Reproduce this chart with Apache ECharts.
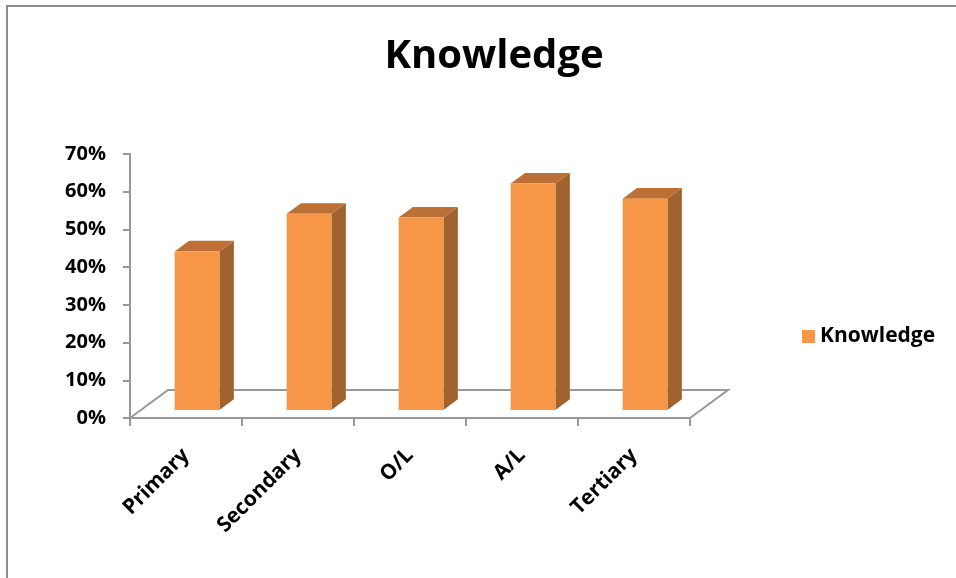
<!DOCTYPE html>
<html>
<head>
<meta charset="utf-8">
<script src="https://cdn.jsdelivr.net/npm/echarts@6/dist/echarts.min.js"></script>
<style>
  html, body { margin: 0; padding: 0; background: #fff; }
  #chart { width: 956px; height: 578px; }
</style>
</head>
<body>
<div id="chart"></div>
<script>
var categories = ['Primary', 'Secondary', 'O/L', 'A/L', 'Tertiary'];
var knowledge = [0.42, 0.52, 0.51, 0.60, 0.56];

// depth of the 3d floor in px, and where the bar sits inside it
var DEPTH = [38, -28];
var BAR_FRONT = 0.29;
var BAR_DEPTH = 0.38;
var BAR_W = 0.4; // share of the category band

var font = '"Open Sans", "DejaVu Sans", sans-serif';

function renderBar(params, api) {
  var idx = api.value(0);
  var base = api.coord([idx, 0]);
  var top = api.coord([idx, api.value(1)]);
  var band = api.size([1, 0])[0];
  var w = band * BAR_W;
  var ox = DEPTH[0] * BAR_FRONT, oy = DEPTH[1] * BAR_FRONT;
  var dx = DEPTH[0] * BAR_DEPTH, dy = DEPTH[1] * BAR_DEPTH;
  var x0 = base[0] - w / 2 + ox, x1 = x0 + w;
  var yb = base[1] + oy, yt = top[1] + oy;
  return {
    type: 'group',
    children: [
      {
        type: 'polygon',
        shape: { points: [[x1, yb], [x1 + dx, yb + dy], [x1 + dx, yt + dy], [x1, yt]] },
        style: { fill: '#A0622E' }
      },
      {
        type: 'polygon',
        shape: { points: [[x0, yt], [x1, yt], [x1 + dx, yt + dy], [x0 + dx, yt + dy]] },
        style: { fill: '#BD7035' }
      },
      {
        type: 'rect',
        shape: { x: x0, y: yt, width: w, height: yb - yt },
        style: { fill: '#F79646' }
      }
    ]
  };
}

// floor outline: left diagonal, back edge, right diagonal
function renderFloor(params, api) {
  var band = api.size([1, 0])[0];
  var first = api.coord([0, 0]);
  var last = api.coord([categories.length - 1, 0]);
  var l = [first[0] - band / 2, first[1]];
  var r = [last[0] + band / 2, last[1]];
  return {
    type: 'polyline',
    shape: { points: [l, [l[0] + DEPTH[0], l[1] + DEPTH[1]], [r[0] + DEPTH[0], r[1] + DEPTH[1]], r] },
    style: { stroke: '#989898', lineWidth: 2, fill: null }
  };
}

var chart = echarts.init(document.getElementById('chart'));
chart.setOption({
  backgroundColor: '#fff',
  animation: false,
  title: {
    text: 'Knowledge',
    left: 489,
    top: 32,
    textAlign: 'center',
    textStyle: { fontFamily: font, fontWeight: 'bold', fontSize: 40, color: '#000' }
  },
  graphic: [{
    type: 'rect',
    shape: { x: 7, y: 6, width: 1000, height: 1000 },
    style: { fill: null, stroke: '#8c8c8c', lineWidth: 2 }
  }],
  legend: {
    left: 797,
    top: 321,
    icon: 'rect',
    itemWidth: 13,
    itemHeight: 13,
    itemGap: 6,
    data: [{ name: 'Knowledge', itemStyle: { color: '#F79646' } }],
    textStyle: { fontFamily: font, fontWeight: 'bold', fontSize: 21, color: '#000', padding: [0, 0, 0, 0] }
  },
  grid: { left: 130, right: 266, top: 154, bottom: 160 },
  xAxis: {
    type: 'category',
    data: categories,
    axisLine: { lineStyle: { color: '#989898', width: 2 } },
    axisTick: { show: true, length: 8, lineStyle: { color: '#989898', width: 2 } },
    axisLabel: {
      rotate: 45, margin: 34,
      fontFamily: font, fontWeight: 'bold', fontSize: 21, color: '#000'
    }
  },
  yAxis: {
    type: 'value',
    min: 0, max: 0.7, interval: 0.1,
    axisLine: { show: true, lineStyle: { color: '#989898', width: 2 } },
    axisTick: { show: true, length: 7, lineStyle: { color: '#989898', width: 2 } },
    splitLine: { show: false },
    axisLabel: {
      margin: 24,
      fontFamily: font, fontWeight: 'bold', fontSize: 20, color: '#000',
      formatter: function (v) { return Math.round(v * 100) + '%'; }
    }
  },
  series: [
    {
      name: 'floor',
      type: 'custom',
      renderItem: renderFloor,
      data: [[0, 0]],
      silent: true,
      z: 1
    },
    {
      name: 'Knowledge',
      type: 'custom',
      renderItem: renderBar,
      encode: { x: 0, y: 1 },
      data: knowledge.map(function (v, i) { return [i, v]; }),
      itemStyle: { color: '#F79646' },
      z: 2
    }
  ]
});
</script>
</body>
</html>
